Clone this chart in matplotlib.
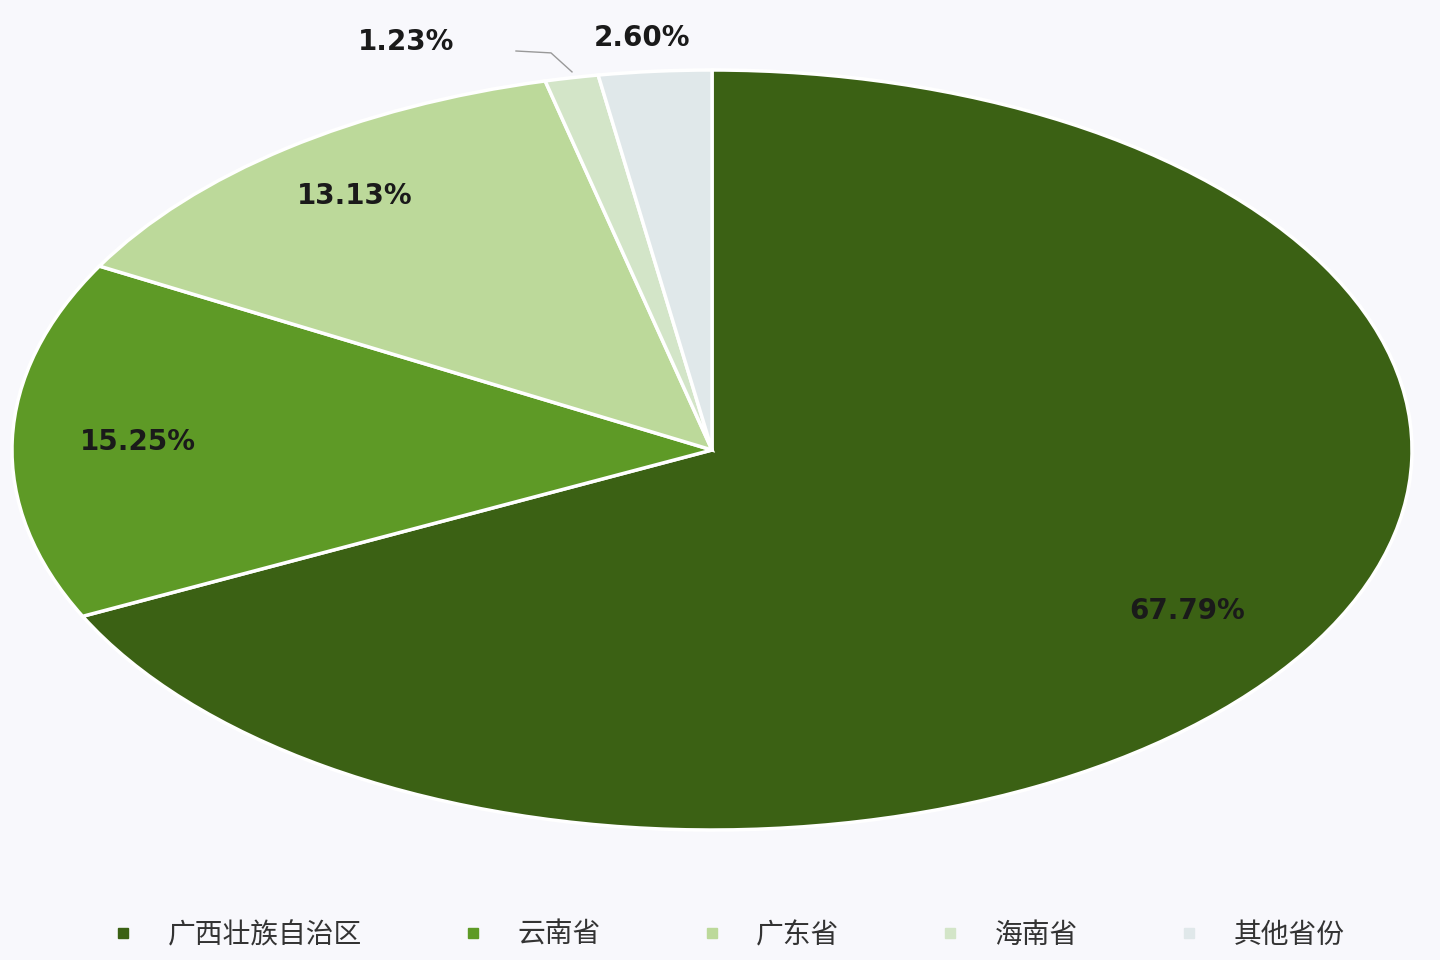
import matplotlib
matplotlib.use("Agg")
import matplotlib.pyplot as plt
import numpy as np
from matplotlib.lines import Line2D

categories = ["广西壮族自治区", "云南省", "广东省", "海南省", "其他省份"]
values = [67.79, 15.25, 13.13, 1.23, 2.60]
colors = ["#3b6114", "#5e9a26", "#bcd99a", "#d3e5c8", "#e0e8ea"]
bg = "#f8f8fc"

fig = plt.figure(figsize=(14.4, 9.6), dpi=100, facecolor=bg)
ax = fig.add_axes([12/1440, 1-830/960, 1400/1440, 760/960])
ax.set_facecolor(bg)
wedges, _ = ax.pie(values, colors=colors, startangle=90, counterclock=False,
                   wedgeprops=dict(edgecolor="white", linewidth=2.5))
ax.set_aspect("auto")
ax.set_xlim(-1, 1); ax.set_ylim(-1, 1)
ax.axis("off")

# labels
label_r = [0.8, 0.82, 0.84]
cum = 0
mids = []
for v in values:
    mids.append(np.deg2rad(90 - (cum + v / 2) * 3.6))
    cum += v
for i in range(3):
    a = mids[i]
    ax.text(label_r[i]*np.cos(a), label_r[i]*np.sin(a), f"{values[i]:.2f}%",
            ha="center", va="center", fontsize=20, fontweight="bold", color="#1a1a1a")
# small slices outside
ax.text(-0.437, 1.075, f"{values[3]:.2f}%", ha="center", va="center",
        fontsize=20, fontweight="bold", color="#1a1a1a", clip_on=False)
ax.plot([-0.28, -0.23, -0.2], [1.05, 1.045, 0.995], color="#999999", lw=1, clip_on=False)
ax.text(-0.1, 1.085, f"{values[4]:.2f}%", ha="center", va="center",
        fontsize=20, fontweight="bold", color="#1a1a1a", clip_on=False)

handles = [Line2D([0], [0], marker="s", linestyle="none", markersize=7,
                  markerfacecolor=c, markeredgecolor=c) for c in colors]
fig.legend(handles, categories, loc="center", bbox_to_anchor=(0.5, 1-935/960), ncol=5,
           frameon=False, prop={"family": ["Noto Sans CJK SC", "DejaVu Sans"], "size": 20},
           columnspacing=3.0, handletextpad=0.6, labelcolor="#333333")
fig.savefig("out.png", dpi=100, facecolor=bg)
